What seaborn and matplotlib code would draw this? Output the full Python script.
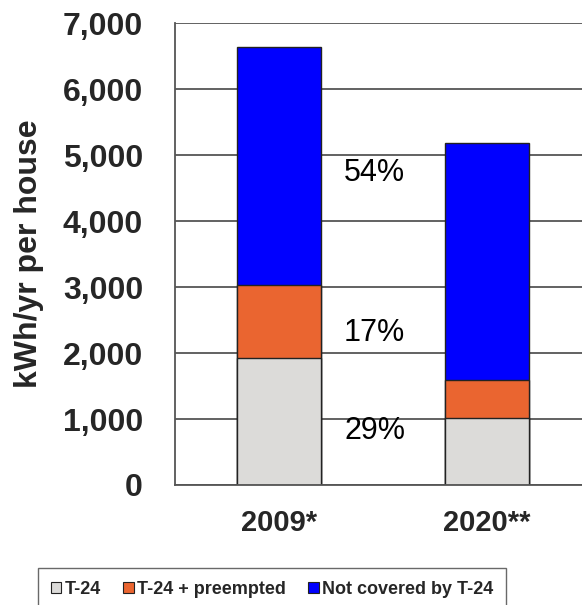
import matplotlib
matplotlib.use("Agg")
import matplotlib.pyplot as plt
import seaborn as sns
import numpy as np
from matplotlib.ticker import FuncFormatter, FixedLocator
from matplotlib.patches import Patch

categories = ["2009*", "2020**"]
t24 = [1920, 1010]
preempted = [1110, 580]
not_covered = [3610, 3590]
series_names = ["T-24", "T-24 + preempted", "Not covered by T-24"]
pct_labels = ["54%", "17%", "29%"]
pct_label_y = [4730, 2300, 820]
y_ticks = [0, 1000, 2000, 3000, 4000, 5000, 6000, 7000]

colors = ["#DCDBD9", "#EA6530", "#0000FF"]

sns.set_style("white")
plt.rcParams["font.family"] = ["Liberation Sans", "DejaVu Sans"]

fig = plt.figure(figsize=(5.82, 6.05), dpi=100)
ax = fig.add_axes([175/582, 1-485/605, (591-175)/582, (485-23)/605])

layers = [t24, preempted, not_covered]
cum = np.cumsum(np.array(layers), axis=0)
# draw from top layer down so lower segments sit on top
for i in reversed(range(3)):
    sns.barplot(x=categories, y=cum[i], color=colors[i], width=0.4,
                edgecolor="#222222", linewidth=1.0, saturation=1, ax=ax)

ax.set_xlim(-0.5, 1.5)
ax.set_ylim(0, 7000)
ax.yaxis.set_major_locator(FixedLocator(y_ticks))
ax.yaxis.set_major_formatter(FuncFormatter(lambda v, p: f"{int(v):,}"))
ax.set_axisbelow(True)
ax.yaxis.grid(True, color="#555555", linewidth=1.3)
ax.xaxis.grid(False)

for s in ["top", "right"]:
    ax.spines[s].set_visible(False)
for s in ["left", "bottom"]:
    ax.spines[s].set_color("#555555")
    ax.spines[s].set_linewidth(1.3)

ax.tick_params(axis="y", direction="out", length=7, width=1.2, color="#555555",
               pad=16, labelsize=23)
for t in ax.get_yticklabels():
    t.set_fontweight("bold")
ax.tick_params(axis="x", which="major", length=0, pad=17, labelsize=21)
for t in ax.get_xticklabels():
    t.set_fontweight("bold")
ax.xaxis.set_minor_locator(FixedLocator([-0.5, 0.5, 1.5]))
ax.tick_params(axis="x", which="minor", direction="out", length=5, width=1.2,
               color="#555555")

ax.set_xlabel("")
ax.set_ylabel("kWh/yr per house", fontsize=23, fontweight="bold")
ax.yaxis.set_label_coords(-0.315, 0.5)

for lab, yv in zip(pct_labels, pct_label_y):
    ax.text(0.46, yv, lab, fontsize=22, ha="center", va="center", color="black")

handles = [Patch(facecolor=c, edgecolor="#222222", linewidth=0.8) for c in colors]
leg = fig.legend(handles, series_names, loc="upper left",
                 bbox_to_anchor=(38/582, 1-568/605), borderaxespad=0,
                 ncol=3, frameon=True,
                 fancybox=False, borderpad=0.7, handlelength=0.6, handleheight=0.6,
                 handletextpad=0.2, columnspacing=1.2,
                 prop={"size": 13, "weight": "bold"})
leg.get_frame().set_edgecolor("#444444")
leg.get_frame().set_linewidth(1.0)

fig.savefig("out.png", dpi=100)
